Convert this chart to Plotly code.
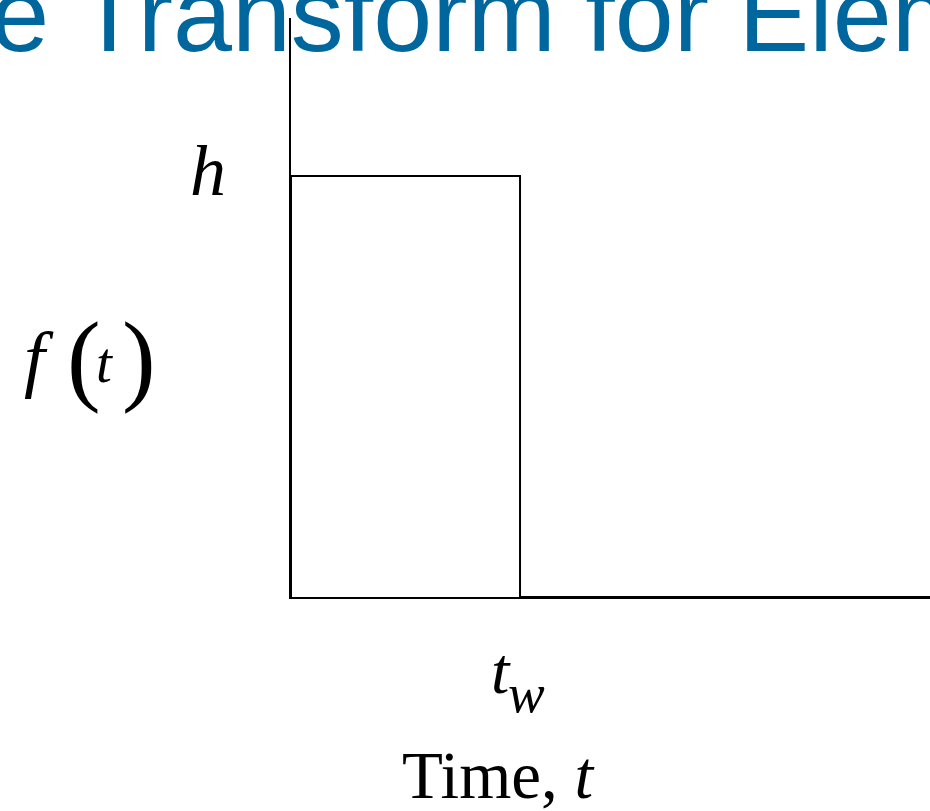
import plotly.graph_objects as go

# ---- data ----
pulse_t = [0, 0, 1, 1, 2.79]      # time values of the rectangular pulse (t_w = 1)
pulse_f = [0, 1, 1, 0, 0]         # f(t) values (h = 1)
t_axis_range = [0, 2.79]
f_axis_range = [0, 1.375]

title_text = "Laplace Transform for Elementary Functions"
h_label = "<i>h</i>"
tw_label = ("<i>t</i>", "<i>w</i>")
x_label = "Time, <i>t</i>"

W, H = 930, 811
SERIF = "Liberation Serif, Times New Roman, serif"
SANS = "Liberation Sans, Arial, sans-serif"

fig = go.Figure()
fig.add_trace(go.Scatter(x=pulse_t, y=pulse_f, mode="lines",
                         line=dict(color="black", width=2),
                         hoverinfo="skip", cliponaxis=False, showlegend=False))


def px(x):
    return x / W


def py(y):
    return 1 - y / H


def label(text, x_left, baseline, size, family, color="black", asc=0.891, desc=0.216):
    center = baseline - (asc - desc) / 2 * size
    fig.add_annotation(text=text, x=px(x_left), y=py(center), xref="paper", yref="paper",
                       xanchor="left", yanchor="middle", showarrow=False,
                       borderpad=0, borderwidth=0,
                       font=dict(family=family, size=size, color=color))


# title (cropped by the page edges)
label(title_text, -322, 51, 106, SANS, color="#00679E", asc=0.905, desc=0.212)
# h
label(h_label, 190, 195, 72, SERIF)
# f(t)
label("<i>f</i>", 24, 383, 75, SERIF)
label("(", 67, 392, 101, SERIF)
label("<i>t</i>", 96, 382, 57, SERIF)
label(")", 122, 392, 101, SERIF)
# t_w
label(tw_label[0], 491, 693, 66, SERIF)
label(tw_label[1], 508, 712, 55, SERIF)
# axis title
label(x_label, 402, 798, 67, SERIF)

fig.update_layout(
    width=W, height=H,
    margin=dict(l=0, r=0, t=0, b=0),
    paper_bgcolor="white", plot_bgcolor="white",
    xaxis=dict(domain=[291 / W, 1], range=t_axis_range, showgrid=False, zeroline=False,
               showticklabels=False, ticks="", showline=True, linecolor="black", linewidth=2),
    yaxis=dict(domain=[(H - 597) / H, (H - 18) / H], range=f_axis_range, showgrid=False,
               zeroline=False, showticklabels=False, ticks="", showline=True,
               linecolor="black", linewidth=2),
)

fig.write_html("out.html", config={"displayModeBar": False},
               post_script="document.body.style.margin='0';document.body.style.overflow='hidden';")
